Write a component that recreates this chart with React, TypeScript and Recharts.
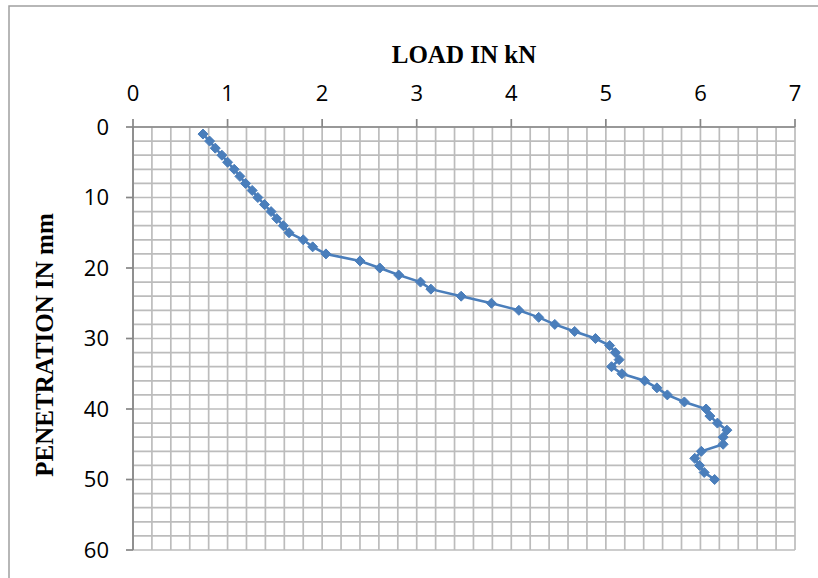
import React from "react";
import {
  LineChart,
  Line,
  XAxis,
  YAxis,
  CartesianGrid,
} from "recharts";

// penetration (mm) and the load read at each step (kN)
const penetration = [
  1, 2, 3, 4, 5, 6, 7, 8, 9, 10, 11, 12, 13, 14, 15, 16, 17, 18, 19, 20, 21,
  22, 23, 24, 25, 26, 27, 28, 29, 30, 31, 32, 33, 34, 35, 36, 37, 38, 39, 40,
  41, 42, 43, 44, 45, 46, 47, 48, 49, 50,
];
const load = [
  0.74, 0.81, 0.87, 0.94, 1.0, 1.07, 1.13, 1.19, 1.26, 1.32, 1.39, 1.46, 1.52,
  1.59, 1.65, 1.8, 1.9, 2.04, 2.4, 2.61, 2.81, 3.04, 3.15, 3.47, 3.79, 4.08,
  4.29, 4.46, 4.67, 4.89, 5.04, 5.1, 5.14, 5.06, 5.17, 5.41, 5.54, 5.65, 5.83,
  6.06, 6.1, 6.18, 6.28, 6.24, 6.24, 6.01, 5.94, 5.99, 6.04, 6.15,
];

const loadTicks = [0, 1, 2, 3, 4, 5, 6, 7];
const penTicks = [0, 10, 20, 30, 40, 50, 60];
// minor gridlines: every 0.2 kN and every 2 mm
const loadMinor = Array.from({ length: 36 }, (_, i) => +(i * 0.2).toFixed(1));
const penMinor = Array.from({ length: 31 }, (_, i) => i * 2);

const data = penetration.map((p, i) => ({ pen: p, load: load[i] }));

const BLUE = "#4a7ebb";
const AXIS = "#868686";
const tickFont = { fill: "#000", fontSize: 22, fontFamily: "Open Sans" };

const Diamond = (props: any) => {
  const { cx, cy, index } = props;
  if (cx == null || cy == null) return null;
  const r = 5;
  return (
    <polygon
      key={index}
      points={`${cx},${cy - r} ${cx + r},${cy} ${cx},${cy + r} ${cx - r},${cy}`}
      fill={BLUE}
      stroke={BLUE}
      strokeWidth={1}
    />
  );
};

const scaleOf = (axis: any) => {
  const s = axis?.scale;
  if (!s) return null;
  return typeof s === "function" ? s : s.map ? (v: number) => s.map(v) : null;
};

const verticalGen = ({ xAxis, offset }: any) => {
  const s = scaleOf(xAxis);
  if (s) return loadMinor.map((v) => s(v));
  return loadMinor.map((v) => offset.left + (v / 7) * offset.width);
};

const horizontalGen = ({ yAxis, offset }: any) => {
  const s = scaleOf(yAxis);
  if (s) return penMinor.map((v) => s(v));
  return penMinor.map((v) => offset.top + (v / 60) * offset.height);
};

export default function App() {
  return (
    <div style={{ position: "relative", width: 818, height: 578 }}>
      <style>{`body{margin:0}`}</style>
      <LineChart
        width={818}
        height={578}
        data={data}
        margin={{ top: 77, right: 23, bottom: 28, left: 73 }}
      >
        <CartesianGrid
          xAxisId="main"
          yAxisId="main"
          stroke="#bcbcbc"
          strokeWidth={1.7}
          verticalCoordinatesGenerator={verticalGen}
          horizontalCoordinatesGenerator={horizontalGen}
        />
        <XAxis
          xAxisId="main"
          type="number"
          dataKey="load"
          domain={[0, 7]}
          ticks={loadTicks}
          orientation="top"
          height={50}
          axisLine={{ stroke: AXIS, strokeWidth: 1.7 }}
          tickLine={{ stroke: AXIS, strokeWidth: 1.7 }}
          tickSize={8}
          tickMargin={18}
          tick={tickFont}
        />
        <YAxis
          yAxisId="main"
          type="number"
          domain={[0, 60]}
          ticks={penTicks}
          reversed
          width={60}
          axisLine={{ stroke: AXIS, strokeWidth: 1.7 }}
          tickLine={{ stroke: AXIS, strokeWidth: 1.7 }}
          tickSize={7}
          tickMargin={17}
          tick={tickFont}
        />
        <Line
          xAxisId="main"
          yAxisId="main"
          dataKey="pen"
          stroke={BLUE}
          strokeWidth={2.6}
          dot={Diamond}
          activeDot={false}
          isAnimationActive={false}
        />
      </LineChart>
      <svg
        width={818}
        height={578}
        style={{ position: "absolute", left: 0, top: 0, pointerEvents: "none" }}
      >
        <path d="M9 578 L9 6 L818 6" fill="none" stroke="#a0a0a0" strokeWidth={1.5} />
        <text
          x={464}
          y={63}
          textAnchor="middle"
          fontFamily="Liberation Serif"
          fontWeight="bold"
          fontSize={25}
          fill="#000"
        >
          LOAD IN kN
        </text>
        <text
          x={53}
          y={345}
          textAnchor="middle"
          transform="rotate(-90 53 345)"
          fontFamily="Liberation Serif"
          fontWeight="bold"
          fontSize={25}
          fill="#000"
        >
          PENETRATION IN mm
        </text>
      </svg>
    </div>
  );
}
